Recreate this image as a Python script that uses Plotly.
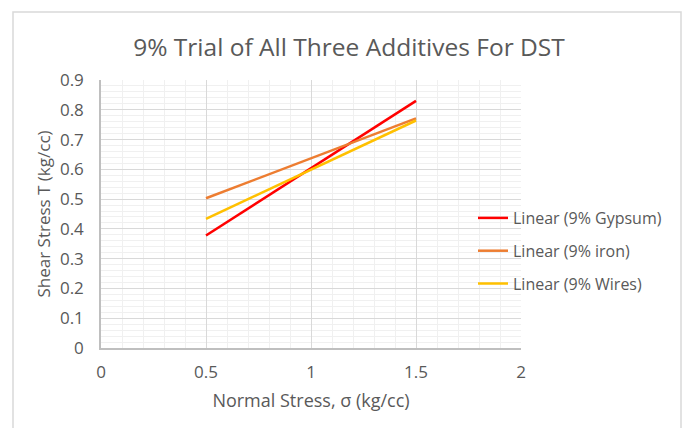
import plotly.graph_objects as go

# Normal stress endpoints of the fitted lines (kg/cc)
normal_stress = [0.5, 1.5]

# Shear stress of each linear trendline at those endpoints (kg/cc)
gypsum_shear = [0.378, 0.830]
iron_shear = [0.503, 0.771]
wires_shear = [0.434, 0.764]

series_names = ["Linear (9% Gypsum)", "Linear (9% iron)", "Linear (9% Wires)"]
series_values = [gypsum_shear, iron_shear, wires_shear]
series_colors = ["#ff0000", "#ed7d31", "#ffc000"]

x_ticks = [0, 0.5, 1, 1.5, 2]
x_tick_text = ["0", "0.5", "1", "1.5", "2"]
y_ticks = [0, 0.1, 0.2, 0.3, 0.4, 0.5, 0.6, 0.7, 0.8, 0.9]
y_tick_text = ["0", "0.1", "0.2", "0.3", "0.4", "0.5", "0.6", "0.7", "0.8", "0.9"]

FONT = "Open Sans"
TEXT = "#595959"

fig = go.Figure()
for i, (name, vals, col) in enumerate(zip(series_names, series_values, series_colors)):
    fig.add_trace(go.Scatter(
        x=normal_stress, y=vals, mode="lines", name=name,
        line=dict(color=col, width=2.5), legendgroup=f"g{i}",
    ))

W, H = 686, 428
L, R, T, B = 101, 165, 80, 80
pw, ph = W - L - R, H - T - B

def px_to_paper_x(px):
    return (px - L) / pw

def px_to_paper_y(py):
    return (H - B - py) / ph

fig.update_layout(
    width=W, height=H,
    margin=dict(l=L, r=R, t=T, b=B),
    paper_bgcolor="white", plot_bgcolor="white",
    font=dict(family=FONT, color=TEXT),
    title=dict(
        text="9% Trial of All Three Additives For DST",
        x=px_to_paper_x(349), xref="paper", xanchor="center",
        y=1 - 47 / H, yanchor="middle",
        font=dict(size=24.5, family=FONT, color=TEXT),
    ),
    showlegend=True,
    legend=dict(
        x=px_to_paper_x(473), y=px_to_paper_y(201), xanchor="left", yanchor="top",
        bgcolor="rgba(0,0,0,0)", font=dict(size=16, family=FONT, color=TEXT),
        tracegroupgap=9, itemwidth=30,
    ),
    xaxis=dict(
        range=[0, 2], tickvals=x_ticks, ticktext=x_tick_text,
        showgrid=True, gridcolor="#d9d9d9", gridwidth=1,
        minor=dict(dtick=0.1, showgrid=True, gridcolor="#f0f0f0", gridwidth=1),
        showline=True, linecolor="#bfbfbf", linewidth=1.5,
        zeroline=False, ticks="", ticklabelstandoff=8,
        tickfont=dict(size=17, family=FONT, color=TEXT),
        title=dict(text="Normal Stress, σ (kg/cc)", standoff=12,
                   font=dict(size=18, family=FONT, color=TEXT)),
    ),
    yaxis=dict(
        range=[0, 0.9], tickvals=y_ticks, ticktext=y_tick_text,
        showgrid=True, gridcolor="#d9d9d9", gridwidth=1,
        minor=dict(dtick=0.02, showgrid=True, gridcolor="#f0f0f0", gridwidth=1),
        showline=True, linecolor="#bfbfbf", linewidth=1.5,
        zeroline=False, ticks="", ticklabelstandoff=12,
        tickfont=dict(size=17, family=FONT, color=TEXT),
        title=dict(text="Shear Stress T (kg/cc)", standoff=5,
                   font=dict(size=17, family=FONT, color=TEXT)),
    ),
    shapes=[dict(
        type="rect", xref="paper", yref="paper",
        x0=px_to_paper_x(13), x1=px_to_paper_x(681),
        y0=px_to_paper_y(440), y1=px_to_paper_y(12),
        line=dict(color="#d9d9d9", width=1.5), fillcolor="rgba(0,0,0,0)",
        layer="below",
    )],
)

fig.write_html("out.html")
